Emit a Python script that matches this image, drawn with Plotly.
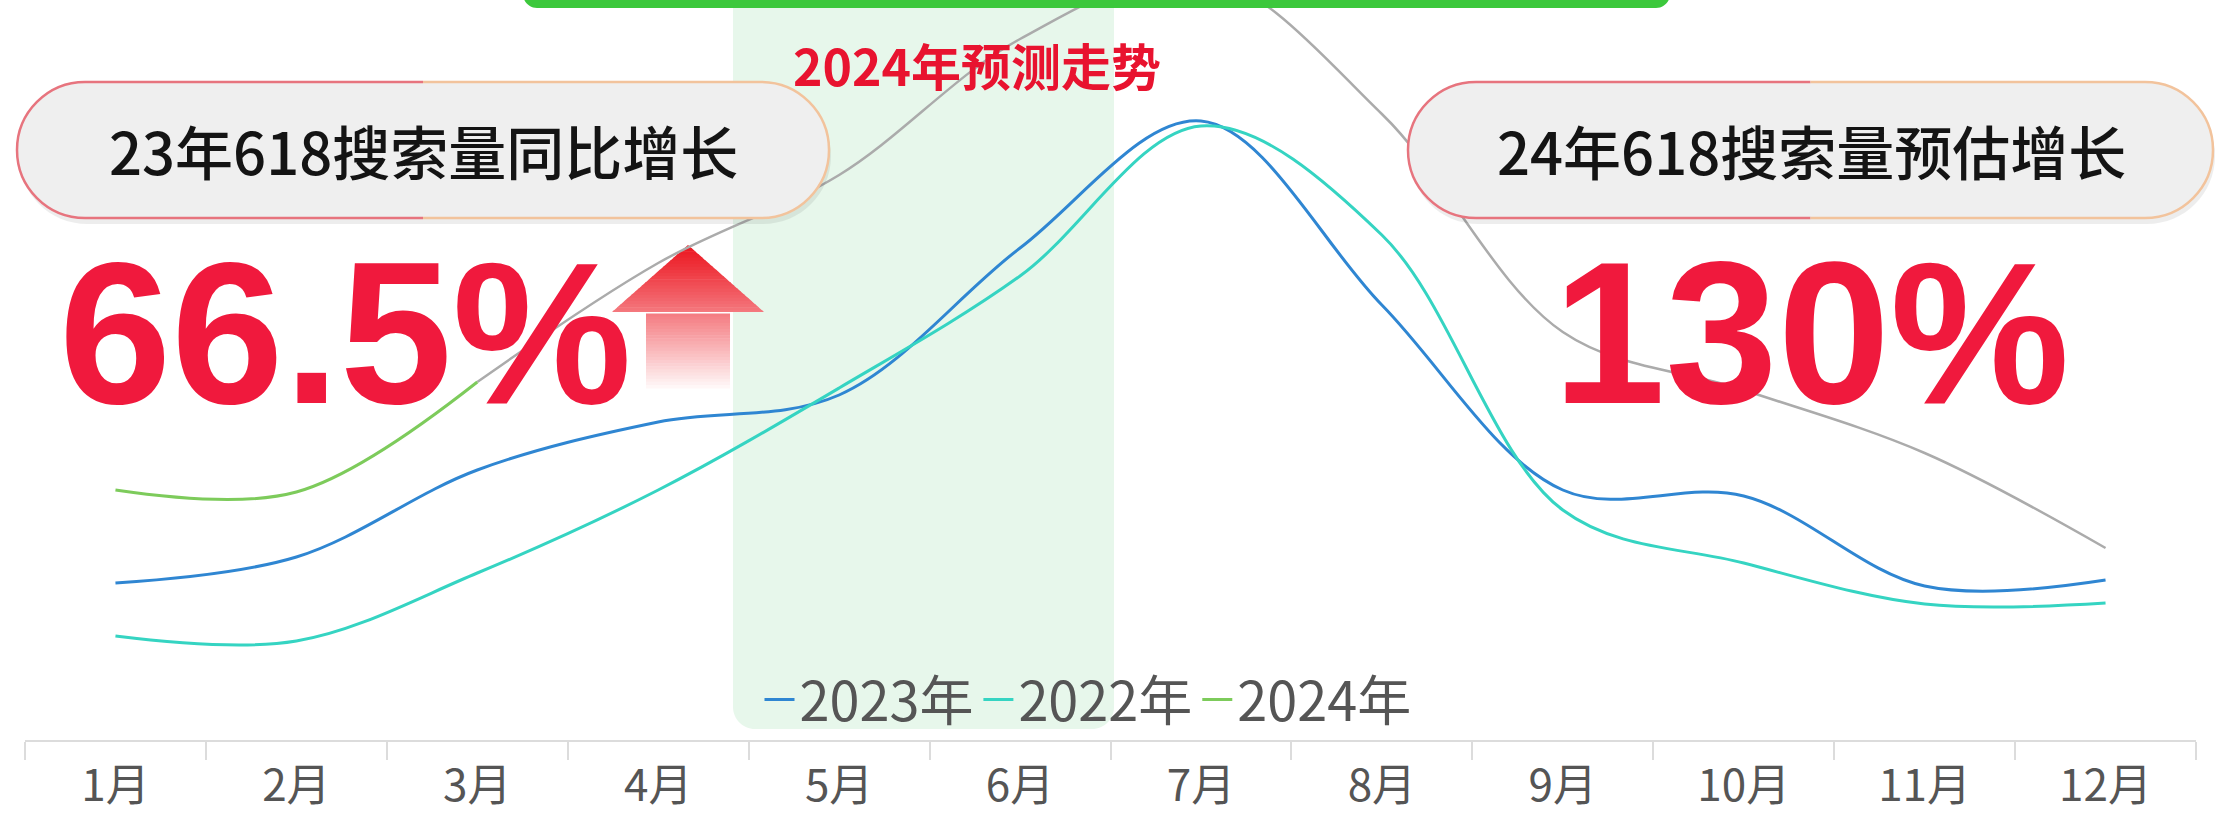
import plotly.graph_objects as go

# ---- data -------------------------------------------------------------
months = ['1月', '2月', '3月', '4月', '5月', '6月', '7月', '8月', '9月', '10月', '11月', '12月']
search_2023 = [31.4, 36.6, 54.0, 63.6, 69.0, 98.4, 123.8, 87.0, 50.0, 48.8, 30.8, 32.0]
search_2022 = [20.8, 19.8, 33.4, 50.0, 70.4, 92.8, 122.8, 101.0, 46.0, 35.4, 27.2, 27.4]
months_2024_actual = months[:3]
search_2024_actual = [50.0, 49.6, 71.6]
months_2024_forecast = months[2:]
search_2024_forecast = [71.6, 95.4, 113.0, 140.2, 153.0, 125.2, 81.6, 70.0, 57.4, 38.4]

series_names = ['2023年', '2022年', '2024年']
forecast_title = '2024年预测走势'
label_23 = '23年618搜索量同比增长'
label_24 = '24年618搜索量预估增长'
growth_23 = '66.5%'
growth_24 = '130%'

# ---- frame ------------------------------------------------------------
W, H = 2219, 831
ML, MR, MT, MB = 25, 23, 0, 91
PW, PH = W - ML - MR, H - MT - MB

CJK = 'Noto Sans CJK SC, Noto Sans, sans-serif'
RED = '#F0193D'


def X(p):
    return (p - ML) / PW


def Y(p):
    return (PH - (p - MT)) / PH


def pt(x, y):
    return f'{X(x):.5f},{Y(y):.5f}'


K = 0.5523


def rounded_rect(x0, y0, x1, y1, rt, rb):
    return ' '.join([
        f'M{pt(x0 + rt, y0)}', f'L{pt(x1 - rt, y0)}',
        f'C{pt(x1 - rt + K * rt, y0)} {pt(x1, y0 + rt - K * rt)} {pt(x1, y0 + rt)}',
        f'L{pt(x1, y1 - rb)}',
        f'C{pt(x1, y1 - rb + K * rb)} {pt(x1 - rb + K * rb, y1)} {pt(x1 - rb, y1)}',
        f'L{pt(x0 + rb, y1)}',
        f'C{pt(x0 + rb - K * rb, y1)} {pt(x0, y1 - rb + K * rb)} {pt(x0, y1 - rb)}',
        f'L{pt(x0, y0 + rt)}',
        f'C{pt(x0, y0 + rt - K * rt)} {pt(x0 + rt - K * rt, y0)} {pt(x0 + rt, y0)}',
        'Z'])


def pill_half(x0, y0, x1, y1, side):
    r = (y1 - y0) / 2
    cx = (x0 + x1) / 2
    if side == 'left':
        return ' '.join([
            f'M{pt(cx, y0)}', f'L{pt(x0 + r, y0)}',
            f'C{pt(x0 + r - K * r, y0)} {pt(x0, y0 + r - K * r)} {pt(x0, y0 + r)}',
            f'C{pt(x0, y0 + r + K * r)} {pt(x0 + r - K * r, y1)} {pt(x0 + r, y1)}',
            f'L{pt(cx, y1)}'])
    return ' '.join([
        f'M{pt(cx, y0)}', f'L{pt(x1 - r, y0)}',
        f'C{pt(x1 - r + K * r, y0)} {pt(x1, y0 + r - K * r)} {pt(x1, y0 + r)}',
        f'C{pt(x1, y0 + r + K * r)} {pt(x1 - r + K * r, y1)} {pt(x1 - r, y1)}',
        f'L{pt(cx, y1)}'])


shapes = []

# highlighted forecast window (May-June)
shapes.append(dict(type='path', xref='paper', yref='paper', layer='below',
                   path=rounded_rect(733, -20, 1114, 729, 0, 22),
                   fillcolor='#E7F7EB', line=dict(width=0)))

# green banner edge at the top
shapes.append(dict(type='path', xref='paper', yref='paper', layer='above',
                   path=rounded_rect(523, -40, 1670, 8, 0, 14),
                   fillcolor='#3CC83C', line=dict(width=0)))


def add_pill(x0, y0, x1, y1):
    r = (y1 - y0) / 2
    shapes.append(dict(type='path', xref='paper', yref='paper', layer='above',
                       path=rounded_rect(x0 + 2, y0 + 6, x1 + 2, y1 + 6, r, r),
                       fillcolor='rgba(0,0,0,0.07)', line=dict(width=0)))
    shapes.append(dict(type='path', xref='paper', yref='paper', layer='above',
                       path=rounded_rect(x0, y0, x1, y1, r, r),
                       fillcolor='#EFEFEF', line=dict(width=0)))
    shapes.append(dict(type='path', xref='paper', yref='paper', layer='above',
                       path=pill_half(x0, y0, x1, y1, 'left'),
                       line=dict(color='#E7747E', width=2.5)))
    shapes.append(dict(type='path', xref='paper', yref='paper', layer='above',
                       path=pill_half(x0, y0, x1, y1, 'right'),
                       line=dict(color='#F2C39C', width=2.5)))


add_pill(17, 82, 829, 218)
add_pill(1408, 82, 2213, 218)

# upward arrow with a red-to-white vertical fade
cx, tip, head_base, bottom = 688, 245, 312, 388
head_half, shaft_half = 76, 42
n = 46
top_c, bot_c = (236, 24, 34), (255, 252, 252)
for i in range(n):
    ya = tip + (bottom - tip) * i / n
    yb = tip + (bottom - tip) * (i + 1) / n + 0.6
    t = (ya - tip) / (bottom - tip)
    c = tuple(round(top_c[k] + (bot_c[k] - top_c[k]) * t ** 1.1) for k in range(3))

    def half(y):
        if y <= head_base:
            return head_half * (y - tip) / (head_base - tip)
        return shaft_half

    if ya < head_base < yb:
        yb = head_base
    ha, hb = half(ya), half(min(yb, bottom))
    if ya >= head_base:
        ha = shaft_half
    path = (f'M{pt(cx - ha, ya)} L{pt(cx + ha, ya)} '
            f'L{pt(cx + hb, yb)} L{pt(cx - hb, yb)} Z')
    shapes.append(dict(type='path', xref='paper', yref='paper', layer='below',
                       path=path, fillcolor=f'rgb{c}', line=dict(width=0)))

# ---- traces -----------------------------------------------------------
fig = go.Figure()
fig.add_trace(go.Scatter(x=months_2024_forecast, y=search_2024_forecast, mode='lines',
                         line=dict(color='#ABABAB', width=2.5, shape='spline', smoothing=1),
                         showlegend=False, hoverinfo='skip'))
fig.add_trace(go.Scatter(x=months, y=search_2023, name=series_names[0], mode='lines',
                         line=dict(color='#2F86D2', width=3, shape='spline', smoothing=1)))
fig.add_trace(go.Scatter(x=months, y=search_2022, name=series_names[1], mode='lines',
                         line=dict(color='#35D4C2', width=3, shape='spline', smoothing=1)))
fig.add_trace(go.Scatter(x=months_2024_actual, y=search_2024_actual, name=series_names[2],
                         mode='lines',
                         line=dict(color='#7DCB5B', width=3, shape='spline', smoothing=1)))

# ---- text -------------------------------------------------------------
annotations = [
    dict(text=forecast_title, x=X(977), y=Y(64), xanchor='center', yanchor='middle',
         font=dict(family=CJK, size=50, color='#E8132F', weight='bold')),
    dict(text=label_23, x=X(423), y=Y(150), xanchor='center', yanchor='middle',
         font=dict(family=CJK, size=58, color='#141414', weight=500)),
    dict(text=label_24, x=X(1811), y=Y(150), xanchor='center', yanchor='middle',
         font=dict(family=CJK, size=58, color='#141414', weight=500)),
    dict(text=growth_23, x=X(345), y=Y(333), xanchor='center', yanchor='middle',
         font=dict(family='Liberation Sans, Arial, sans-serif', size=202, color=RED,
                   weight='bold')),
    dict(text=growth_24, x=X(1811), y=Y(333), xanchor='center', yanchor='middle',
         font=dict(family='Liberation Sans, Arial, sans-serif', size=202, color=RED,
                   weight='bold')),
]
for a in annotations:
    a.update(xref='paper', yref='paper', showarrow=False)

fig.update_layout(
    width=W, height=H,
    margin=dict(l=ML, r=MR, t=MT, b=MB),
    paper_bgcolor='white', plot_bgcolor='white',
    shapes=shapes, annotations=annotations,
    hovermode=False,
    legend=dict(orientation='h', x=X(1088), xanchor='center', y=Y(700), yanchor='middle',
                font=dict(family=CJK, size=54, color='#555555'),
                bgcolor='rgba(0,0,0,0)', itemwidth=30),
    xaxis=dict(type='category', categoryorder='array', categoryarray=months,
               range=[-0.5, 11.5], tickson='boundaries', ticks='outside', ticklen=18,
               tickwidth=2, tickcolor='#DCDCDC', showline=True, linecolor='#DCDCDC',
               linewidth=2, showgrid=False, zeroline=False, automargin=False,
               tickfont=dict(family=CJK, size=44, color='#555555'),
               ticklabelstandoff=6, fixedrange=True),
    yaxis=dict(range=[0, PH / 5], visible=False, showgrid=False, zeroline=False,
               fixedrange=True, automargin=False),
)

fig.write_html('out.html', config=dict(displayModeBar=False, staticPlot=True))
